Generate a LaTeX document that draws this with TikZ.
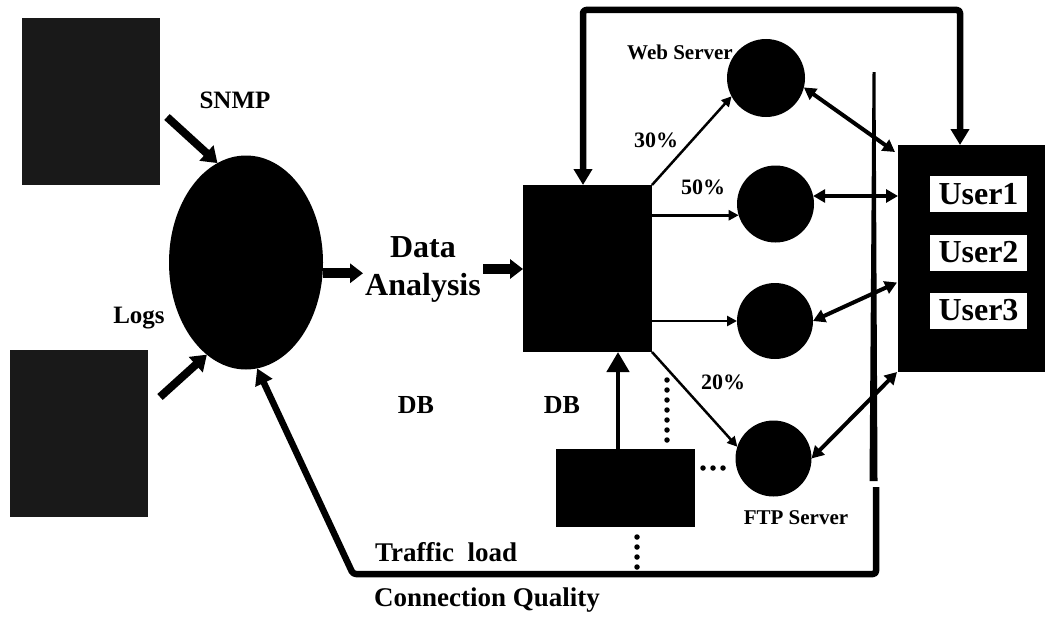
\documentclass[tikz,border=0pt]{standalone}
\usepackage{fontspec}
\setmainfont{Liberation Serif}
\usetikzlibrary{arrows.meta,calc,shapes.geometric}
\begin{document}
\begin{tikzpicture}[x=1pt,y=-1pt,
  lbl/.style={font=\bfseries\fontsize{#1}{#1}\selectfont, inner sep=1pt},
  blk/.style={fill=black, draw=none, inner sep=0pt, outer sep=0pt},
  src/.style={blk, fill=black!90, minimum width=138pt, minimum height=167pt},
  ubox/.style={fill=white, draw=none, inner sep=0pt, minimum width=97pt, minimum height=36pt,
               font=\bfseries\fontsize{32}{32}\selectfont},
  feed/.style={line width=8pt, -{Triangle[length=15pt,width=20pt]}},
  flow/.style={line width=10pt, -{Triangle[length=13pt,width=19pt]}},
  loopln/.style={line width=6.5pt, rounded corners=3pt, line join=round},
  route/.style={line width=2.5pt, -{Triangle[length=10pt,width=10pt]}},
  link/.style={line width=4pt, {Triangle[length=12pt,width=13pt]}-{Triangle[length=12pt,width=13pt]}},
  dots/.style={line width=5.5pt, line cap=round, dash pattern=on 0pt off 10pt}]

\fill[white] (0,0) rectangle (1048,618);
\useasboundingbox (0,0) rectangle (1048,618);

% data sources and the collector
\node[src] (src1) at (91,101.5) {};
\node[src] (src2) at (79,433.5) {};
\node[blk, ellipse, minimum width=154pt, minimum height=214pt] (proc) at (246,262.5) {};
\node[lbl=25] (snmp) at (235,100) {SNMP};
\node[lbl=25] (logs) at (139,318) {Logs};
\node[align=center, inner sep=2pt, font=\bfseries\fontsize{32}{38}\selectfont] (da) at (423,269) {Data\\Analysis};

% dispatcher and monitor
\node[blk, minimum width=129pt, minimum height=167pt] (lb) at (587.5,268.5) {};
\node[blk, minimum width=139pt, minimum height=78pt] (mon) at (625.5,488) {};

% servers
\node[blk, circle, minimum size=78pt] (web) at (766,78) {};
\node[blk, circle, minimum size=77pt] (s2) at (775.5,204) {};
\node[blk, circle, minimum size=76pt] (s3) at (775,321) {};
\node[blk, circle, minimum size=76pt] (ftp) at (773.5,458.5) {};

% users
\node[blk, minimum width=147pt, minimum height=227pt] (users) at (971.5,258.5) {};
\node[ubox] (u1) at (978.5,194) {User1};
\node[ubox] (u2) at (978.5,252.5) {User2};
\node[ubox] (u3) at (978.5,310.5) {User3};

% labels
\node[lbl=21] (lweb) at (680,52) {Web Server};
\node[lbl=22] (p30) at (656,140) {30\%};
\node[lbl=22] (p50) at (703,187) {50\%};
\node[lbl=22] (p20) at (723,382) {20\%};
\node[lbl=21] (lftp) at (796,518) {FTP Server};
\node[lbl=26] (db1) at (416,405) {DB};
\node[lbl=26] (db2) at (562,405) {DB};
\node[lbl=27, anchor=west] (traffic) at (374,552) {Traffic~ load};
\node[lbl=27, anchor=west] (quality) at (373,600) {Connection Quality};

% inputs to the collector
\draw[feed] ([shift={(7,15.5)}]src1.east) -- (proc.106);
\draw[feed] ([shift={(12,-36.5)}]src2.east) -- (proc.247);
\draw[flow] (proc.-8) -- (proc.-8 -| da.west);
\draw[flow] (da.east) -- (da.east -| lb.west);

% feedback from the users to the dispatcher
\coordinate (topL) at (583,10);
\coordinate (topR) at (960,10);
\draw[loopln, {Triangle[length=16pt,width=18pt]}-{Triangle[length=16pt,width=18pt]}]
  (lb.north -| topL) -- (topL) -- (topR) -- (users.north -| topR);

% boundary line
\fill (872.5,72) -- (875.5,72) -- (877.5,481) -- (869.5,481) -- cycle;

% feedback of traffic load and connection quality
\coordinate (fbS) at (876,487);
\coordinate (fbR) at (876,574);
\coordinate (fbL) at (353,574);
\draw[loopln, -{Triangle[length=16pt,width=18pt]}] (fbS) -- (fbR) -- (fbL) -- (proc.-84);

% dispatching to the servers
\draw[route] (lb.north east) -- (web.208);
\draw[route] (s2.197 -| lb.east) -- (s2.197);
\draw[route] (s3.west -| lb.east) -- (s3.west);
\draw[route] (lb.south east) -- (ftp.162);

% servers and users
\draw[link] (web.-14) -- ($(users.north west)+(-3,7)$);
\draw[link] (s2.12) -- (s2.12 -| users.west);
\draw[link] (s3.east) -- ($(users.west)+(-1,24)$);
\draw[link] (ftp.east) -- ($(users.south west)+(-1,0)$);

% monitor
\coordinate (upx) at (618,400);
\draw[line width=4.5pt, -{Triangle[length=20pt,width=22pt]}] (mon.north -| upx) -- (lb.south -| upx);
\coordinate (dotUp) at (667,377);
\draw[dots] ($(mon.north -| dotUp)+(0,-9)$) -- (dotUp);
\coordinate (dotR) at (727,468);
\draw[dots] ($(mon.east |- dotR)+(8,0)$) -- (dotR);
\coordinate (dotDn) at (637,567);
\draw[dots] ($(mon.south -| dotDn)+(0,10)$) -- (dotDn);
\end{tikzpicture}
\end{document}
